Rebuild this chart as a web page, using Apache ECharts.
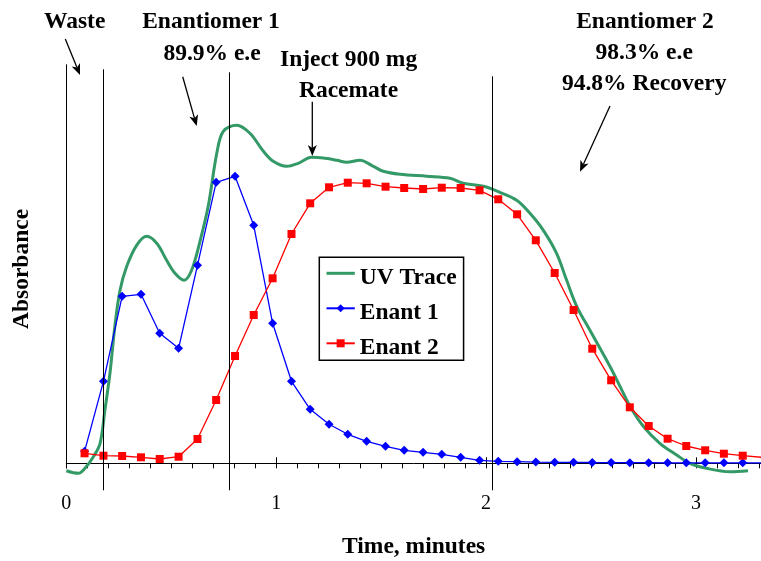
<!DOCTYPE html>
<html><head><meta charset="utf-8">
<script src="https://cdn.jsdelivr.net/npm/echarts@6/dist/echarts.min.js"></script>
<style>html,body{margin:0;padding:0;background:#fff}#c{width:761px;height:561px}</style>
</head><body><div id="c"></div>
<script>
// ---------- data ----------
const sampleTimes = [0.087, 0.177, 0.266, 0.356, 0.445, 0.535, 0.625, 0.714, 0.804, 0.893,
  0.983, 1.073, 1.162, 1.252, 1.341, 1.431, 1.521, 1.610, 1.700, 1.789,
  1.879, 1.969, 2.058, 2.148, 2.237, 2.327, 2.417, 2.506, 2.596, 2.685,
  2.775, 2.865, 2.954, 3.044, 3.133, 3.223, 3.313];
const enant1 = [0.12, 0.82, 1.67, 1.69, 1.30, 1.15, 1.98, 2.81, 2.87, 2.38,
  1.40, 0.82, 0.54, 0.39, 0.29, 0.22, 0.17, 0.13, 0.11, 0.09,
  0.06, 0.03, 0.02, 0.016, 0.012, 0.01, 0.01, 0.008, 0.007, 0.006,
  0.006, 0.005, 0.005, 0.005, 0.005, 0.005, 0.005];
const enant2 = [0.10, 0.076, 0.073, 0.06, 0.043, 0.066, 0.243, 0.633, 1.073, 1.483,
  1.85, 2.293, 2.60, 2.76, 2.806, 2.80, 2.766, 2.753, 2.743, 2.756,
  2.753, 2.73, 2.64, 2.49, 2.23, 1.903, 1.533, 1.146, 0.83, 0.56,
  0.373, 0.246, 0.173, 0.13, 0.096, 0.076, 0.06];
const uvTime = [0, 0.057, 0.089, 0.129, 0.161, 0.184, 0.208, 0.232, 0.256, 0.288,
  0.335, 0.383, 0.431, 0.478, 0.518, 0.561, 0.597, 0.637, 0.677, 0.717,
  0.748, 0.812, 0.875, 0.939, 0.986, 1.050, 1.105, 1.169, 1.233, 1.290,
  1.336, 1.399, 1.463, 1.510, 1.590, 1.717, 1.828, 1.891, 1.987, 2.066,
  2.146, 2.209, 2.273, 2.336, 2.384, 2.432, 2.495, 2.590, 2.638, 2.686,
  2.749, 2.828, 2.908, 2.971, 3.051, 3.162, 3.248];
const uvValue = [-0.074, -0.10, -0.05, 0.066, 0.20, 0.533, 0.90, 1.38, 1.73, 1.97,
  2.18, 2.27, 2.20, 2.03, 1.90, 1.83, 1.93, 2.22, 2.58, 3.10,
  3.32, 3.38, 3.30, 3.12, 3.02, 2.97, 3.00, 3.06, 3.05, 3.03,
  3.01, 3.03, 2.97, 2.92, 2.89, 2.87, 2.85, 2.80, 2.77, 2.71,
  2.63, 2.50, 2.33, 2.10, 1.83, 1.57, 1.33, 0.97, 0.77, 0.57,
  0.37, 0.20, 0.083, 0.00, -0.05, -0.084, -0.074];
const cutTimes = [0, 0.176, 0.777, 2.031];
const cutTop = [3.99, 3.94, 3.91, 3.87];
const cutBottom = [-0.05, -0.27, -0.27, -0.27];
const xTickLabels = ['0', '1', '2', '3'];
const seriesNames = ['UV Trace', 'Enant 1', 'Enant 2'];
const xTitle = 'Time, minutes';
const yTitle = 'Absorbance';
const noteTexts = ['Waste', 'Enantiomer 1', '89.9% e.e', 'Inject 900 mg', 'Racemate',
  'Enantiomer 2', '98.3% e.e', '94.8% Recovery'];

// ---------- layout / style ----------
const FONT = '"Liberation Serif", "Times New Roman", serif';
const BOLD = 'bold 23.5px ' + FONT;
const notePos = [[74.7, 21.5], [211, 21.5], [212, 53.5], [348.6, 60.3], [348.5, 90.5],
  [645, 21.5], [644.2, 53.2], [644.2, 84]];
const arrows = [[65.3, 39, 80, 75], [182.7, 76.7, 196.7, 126], [312.3, 101.7, 312.3, 156], [610, 106, 580, 171.7]];

const graphics = [];
noteTexts.forEach((t, i) => graphics.push({
  type: 'text', z: 100,
  style: {text: t, x: notePos[i][0], y: notePos[i][1], align: 'center', verticalAlign: 'middle', font: BOLD, fill: '#000'}
}));
graphics.push({
  type: 'text', z: 100, x: 22, y: 269, rotation: Math.PI / 2,
  style: {text: yTitle, x: 0, y: 0, align: 'center', verticalAlign: 'middle', font: BOLD, fill: '#000'}
});
arrows.forEach(a => {
  const [x1, y1, x2, y2] = a;
  const dx = x2 - x1, dy = y2 - y1, L = Math.hypot(dx, dy);
  const ux = dx / L, uy = dy / L, px = -uy, py = ux;
  const hl = 11, hw = 4.5, notch = 8;
  const bx = x2 - ux * hl, by = y2 - uy * hl;
  const nx = x2 - ux * notch, ny = y2 - uy * notch;
  graphics.push({type: 'line', z: 100, shape: {x1: x1, y1: y1, x2: nx, y2: ny}, style: {stroke: '#000', lineWidth: 1.3}});
  graphics.push({type: 'polygon', z: 100, shape: {points: [[x2, y2], [bx + px * hw, by + py * hw], [nx, ny], [bx - px * hw, by - py * hw]]}, style: {fill: '#000'}});
});

const pairs = (xs, ys) => xs.map((x, i) => [x, ys[i]]);
const gridBox = {left: 66.3, right: 0, top: 63.3, bottom: 67.7, containLabel: false, outerBoundsMode: 'none'};
const labelFmt = v => (Math.abs(v - Math.round(v)) < 1e-9 && xTickLabels[Math.round(v)] !== undefined) ? xTickLabels[Math.round(v)] : '';

const option = {
  animation: false,
  backgroundColor: '#fff',
  grid: [Object.assign({}, gridBox), Object.assign({}, gridBox)],
  xAxis: [{
    gridIndex: 0, type: 'value', min: 0, max: 3.31, interval: 1, position: 'bottom',
    axisLine: {onZero: true, lineStyle: {color: '#000', width: 1}},
    axisTick: {show: true, inside: false, length: 5, lineStyle: {color: '#000', width: 1}},
    minorTick: {show: true, splitNumber: 10, length: 5, lineStyle: {color: '#000', width: 1}},
    axisLabel: {margin: 0, fontFamily: FONT, fontSize: 20, color: '#000', formatter: labelFmt},
    splitLine: {show: false},
    name: xTitle, nameLocation: 'middle', nameGap: 41.5,
    nameTextStyle: {fontFamily: FONT, fontSize: 23.5, fontWeight: 'bold', color: '#000'}
  }, {
    gridIndex: 1, type: 'value', min: 0, max: 3.31, interval: 1, position: 'bottom',
    axisLine: {show: false, onZero: true},
    axisTick: {show: true, inside: true, length: 6, lineStyle: {color: '#000', width: 1}},
    axisLabel: {show: false}, splitLine: {show: false}
  }],
  yAxis: [{
    gridIndex: 0, type: 'value', min: -0.3, max: 4.0,
    axisLine: {show: false}, axisTick: {show: false}, axisLabel: {show: false}, splitLine: {show: false}
  }, {
    gridIndex: 1, type: 'value', min: -0.3, max: 4.0,
    axisLine: {show: false}, axisTick: {show: false}, axisLabel: {show: false}, splitLine: {show: false}
  }],
  legend: {
    data: [{name: seriesNames[0], itemStyle: {opacity: 0}, lineStyle: {width: 3}}, {name: seriesNames[1]}, {name: seriesNames[2]}],
    orient: 'vertical', left: 319.3, top: 257.3,
    padding: [0, 7, 0, 5.7], itemGap: 2, itemWidth: 28.3, itemHeight: 10,
    backgroundColor: '#fff', borderColor: '#000', borderWidth: 1.5, borderRadius: 0,
    selectedMode: false,
    formatter: name => '{s| }\n{t|' + name + '}',
    textStyle: {
      fontFamily: FONT, fontSize: 23.5, fontWeight: 'bold', color: '#000',
      rich: {
        s: {lineHeight: 10, fontSize: 8},
        t: {lineHeight: 24, fontFamily: FONT, fontSize: 23.5, fontWeight: 'bold', color: '#000'}
      }
    }
  },
  series: [{
    name: 'cuts', type: 'line', data: [], clip: false, silent: true,
    markLine: {
      silent: true, symbol: ['none', 'none'], label: {show: false},
      lineStyle: {color: '#000', width: 1, type: 'solid'},
      emphasis: {disabled: true},
      data: cutTimes.map((t, i) => [{coord: [t, cutTop[i]]}, {coord: [t, cutBottom[i]]}])
    }
  }, {
    name: seriesNames[0], type: 'line', data: pairs(uvTime, uvValue), smooth: 0.35,
    showSymbol: false, symbol: 'none', color: '#339966',
    lineStyle: {color: '#339966', width: 3}
  }, {
    name: seriesNames[1], type: 'line', data: pairs(sampleTimes, enant1),
    symbol: 'diamond', symbolSize: 9, color: '#0000ff',
    itemStyle: {color: '#0000ff'}, lineStyle: {color: '#0000ff', width: 1.3}
  }, {
    name: seriesNames[2], type: 'line', data: pairs(sampleTimes, enant2),
    symbol: 'rect', symbolSize: 8, color: '#ff0000',
    itemStyle: {color: '#ff0000'}, lineStyle: {color: '#ff0000', width: 1.3}
  }],
  graphic: graphics
};
const chart = echarts.init(document.getElementById('c'), null, {renderer: 'canvas'});
chart.setOption(option);
</script></body></html>
